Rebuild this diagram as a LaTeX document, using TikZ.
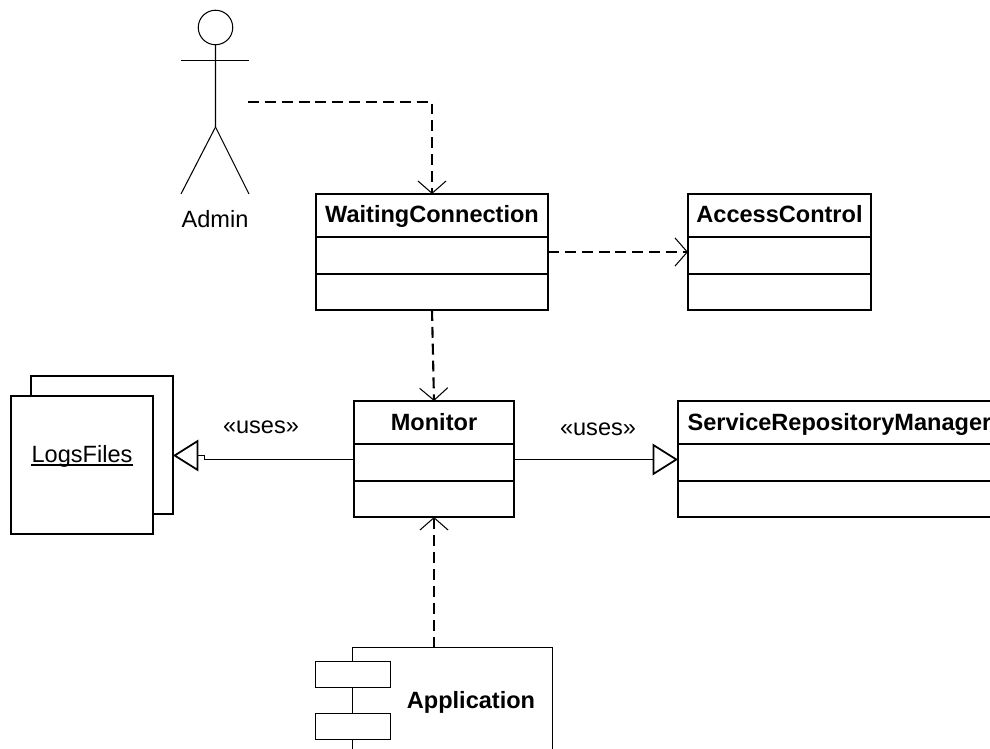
\documentclass[tikz,border=0pt]{standalone}
\usepackage{fontspec}
\setmainfont{Liberation Sans}
\usetikzlibrary{positioning}
\usetikzlibrary{arrows.meta}

\tikzset{
  classhead/.style={draw,line width=1.1pt,fill=white,inner sep=0pt,outer sep=0pt,minimum height=.86cm,text height=.37cm,text depth=.1cm,font=\fontsize{13.4}{16}\selectfont\bfseries},
  classrow/.style={draw,line width=1.1pt,fill=white,inner sep=0pt,outer sep=0pt,minimum height=.74cm},
  depends/.style={line width=1.2pt,dash pattern=on 6.2pt off 3.4pt,-{Straight Barb[length=7pt,width=16pt,line width=.6pt]}},
  uses/.style={line width=.57pt,-{Triangle[open,fill=white,length=14.5pt,width=18pt,line width=1pt]}},
  thinline/.style={line width=.6pt},
  filebox/.style={draw,line width=1.1pt,minimum width=2.84cm,minimum height=2.76cm,inner sep=0pt,outer sep=0pt},
  portbox/.style={draw,thinline,fill=white,minimum width=1.5cm,minimum height=.52cm,inner sep=0pt,outer sep=0pt},
  caption/.style={inner sep=0pt,anchor=base,font=\fontsize{13.4}{16}\selectfont},
}

\begin{document}
\begin{tikzpicture}
    \useasboundingbox (0,0) rectangle (19.8,14.98);
    \clip (0,0) rectangle (19.8,14.98);

    % actor
    \node[draw,circle,thinline,inner sep=0pt,minimum size=.69cm,outer sep=0pt] (adminhead) at (4.31,14.43) {};
    \draw[thinline] (adminhead.south) -- (4.31,12.44) -- (3.62,11.1);
    \draw[thinline] (4.31,12.44) -- (4.98,11.1);
    \draw[thinline] (3.62,13.77) -- (4.98,13.77);
    \node[caption] (admin) at (4.3,10.43) {Admin};
    \coordinate (adminhand) at (4.96,12.94);

    % classes
    \node[classhead,minimum width=4.64cm] (waiting) at (8.64,10.67) {WaitingConnection};
    \node[classrow,minimum width=4.64cm,below=0pt of waiting] (waitingattr) {};
    \node[classrow,minimum width=4.64cm,minimum height=.72cm,below=0pt of waitingattr] (waitingops) {};

    \node[classhead,minimum width=3.66cm] (access) at (15.59,10.67) {AccessControl};
    \node[classrow,minimum width=3.66cm,below=0pt of access] (accessattr) {};
    \node[classrow,minimum width=3.66cm,minimum height=.72cm,below=0pt of accessattr] (accessops) {};

    \node[classhead,minimum width=3.2cm,text height=.41cm] (monitor) at (8.68,6.53) {Monitor};
    \node[classrow,minimum width=3.2cm,below=0pt of monitor] (monitorattr) {};
    \node[classrow,minimum width=3.2cm,minimum height=.72cm,below=0pt of monitorattr] (monitorops) {};

    \node[classhead,minimum width=6.46cm,text height=.41cm] (repository) at (16.79,6.53) {ServiceRepositoryManager};
    \node[classrow,minimum width=6.46cm,below=0pt of repository] (repositoryattr) {};
    \node[classrow,minimum width=6.46cm,minimum height=.72cm,below=0pt of repositoryattr] (repositoryops) {};

    % log files
    \node[filebox] (logsback) at (2.04,6.08) {};
    \node[filebox,fill=white] (logs) at (1.64,5.68) {};
    \node[caption] (logstext) at (1.64,5.73) {LogsFiles};
    \draw[line width=.8pt] ([yshift=-1.4pt]logstext.base west) -- ([yshift=-1.4pt]logstext.base east);

    % component
    \node[draw,thinline,fill=white,minimum width=4cm,minimum height=3cm,inner sep=0pt,outer sep=0pt,anchor=north west] (application) at (7.05,2.03) {};
    \node[portbox] (applicationtop) at (7.06,1.49) {};
    \node[portbox,below=.52cm of applicationtop] (applicationbottom) {};
    \node[caption,font=\fontsize{13.4}{16}\selectfont\bfseries] (applicationtext) at (9.42,.81) {Application};

    % connectors
    \draw[depends] (adminhand) -| (waiting.north);
    \draw[depends] (waitingattr.east |- 0,9.94) -- (accessattr.west |- 0,9.94);
    \draw[depends] (waitingops.south) -- (monitor.north);
    \draw[depends] (application.north -| monitorops.south) -- (monitorops.south);

    \coordinate (logsjog) at (4.08,5.87);
    \coordinate (logstip) at (3.46,5.87);
    \draw[uses] (monitorattr.west |- 0,5.79) -- (4.08,5.79) -- (logsjog) -- (logstip);
    \draw[uses] (monitorattr.east |- 0,5.79) -- (repositoryattr.west |- 0,5.79);

    \node[caption] (usesleft) at (5.22,6.31) {«uses»};
    \node[caption] (usesright) at (11.96,6.27) {«uses»};
\end{tikzpicture}
\end{document}
